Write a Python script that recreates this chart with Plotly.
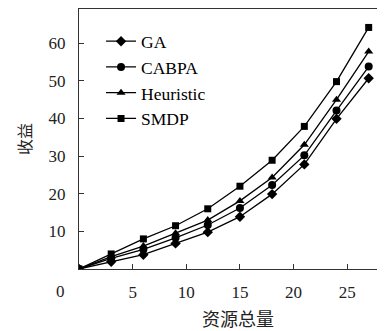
import plotly.graph_objects as go

x_vals = [0, 3, 6, 9, 12, 15, 18, 21, 24, 27]
ga = [0, 1.9, 3.8, 6.8, 9.8, 13.9, 19.9, 27.8, 39.9, 50.7]
cabpa = [0, 2.8, 5.2, 8.3, 11.7, 16.2, 22.3, 30.2, 42.1, 53.8]
heuristic = [0, 3.3, 6.1, 9.5, 13.0, 18.1, 24.3, 33.0, 45.0, 57.8]
smdp = [0, 4.0, 8.0, 11.5, 16.0, 22.0, 28.9, 37.9, 49.8, 64.2]
series_names = ["GA", "CABPA", "Heuristic", "SMDP"]
series_symbols = ["diamond", "circle", "triangle-up", "square"]
x_ticks = [5, 10, 15, 20, 25]
y_ticks = [10, 20, 30, 40, 50, 60]
x_title = "资源总量"
y_title = "收益"

serif = "Liberation Serif, DejaVu Serif, serif"
cjk = "Noto Sans CJK SC"

fig = go.Figure()
for name, ys, sym in zip(series_names, [ga, cabpa, heuristic, smdp], series_symbols):
    fig.add_trace(go.Scatter(
        x=x_vals, y=ys, name=name, mode="lines+markers",
        line=dict(color="black", width=1.3),
        marker=dict(symbol=sym, size=8 if sym != "square" else 7, color="black"),
    ))

# Page body has an 8px default margin, so the figure is 8px smaller than the window
fig.update_layout(
    width=377, height=323,
    margin=dict(l=71, r=0, t=1, b=62),
    paper_bgcolor="white", plot_bgcolor="white",
    showlegend=True,
    legend=dict(x=0.072, y=0.945, xanchor="left", yanchor="top",
                font=dict(family=serif, size=17.5, color="black"),
                bgcolor="rgba(0,0,0,0)", itemwidth=30, tracegroupgap=0),
    annotations=[
        dict(text="0", x=-0.062, y=-0.085, xref="paper", yref="paper",
             showarrow=False, font=dict(family=serif, size=17, color="#222"),
             xanchor="center", yanchor="middle"),
        dict(text=x_title, x=0.518, y=-0.19, xref="paper", yref="paper",
             showarrow=False, font=dict(family=cjk, size=18, color="#222"),
             xanchor="center", yanchor="middle"),
    ],
)
fig.update_xaxes(range=[0, 28.52], tickvals=x_ticks, ticks="inside", ticklen=5,
                 tickcolor="#333", showline=True, linecolor="#333", linewidth=1.3,
                 mirror=True, showgrid=False, zeroline=False,
                 tickfont=dict(family=serif, size=17, color="#222"),
                 ticklabelstandoff=7)
fig.update_yaxes(range=[0, 69.1], tickvals=y_ticks, ticks="inside", ticklen=5,
                 tickcolor="#333", showline=True, linecolor="#333", linewidth=1.3,
                 showgrid=False, zeroline=False,
                 tickfont=dict(family=serif, size=17, color="#222"),
                 ticklabelstandoff=9,
                 title=dict(text=y_title, font=dict(family=cjk, size=16, color="#222"), standoff=12))

fig.write_html("out.html")
